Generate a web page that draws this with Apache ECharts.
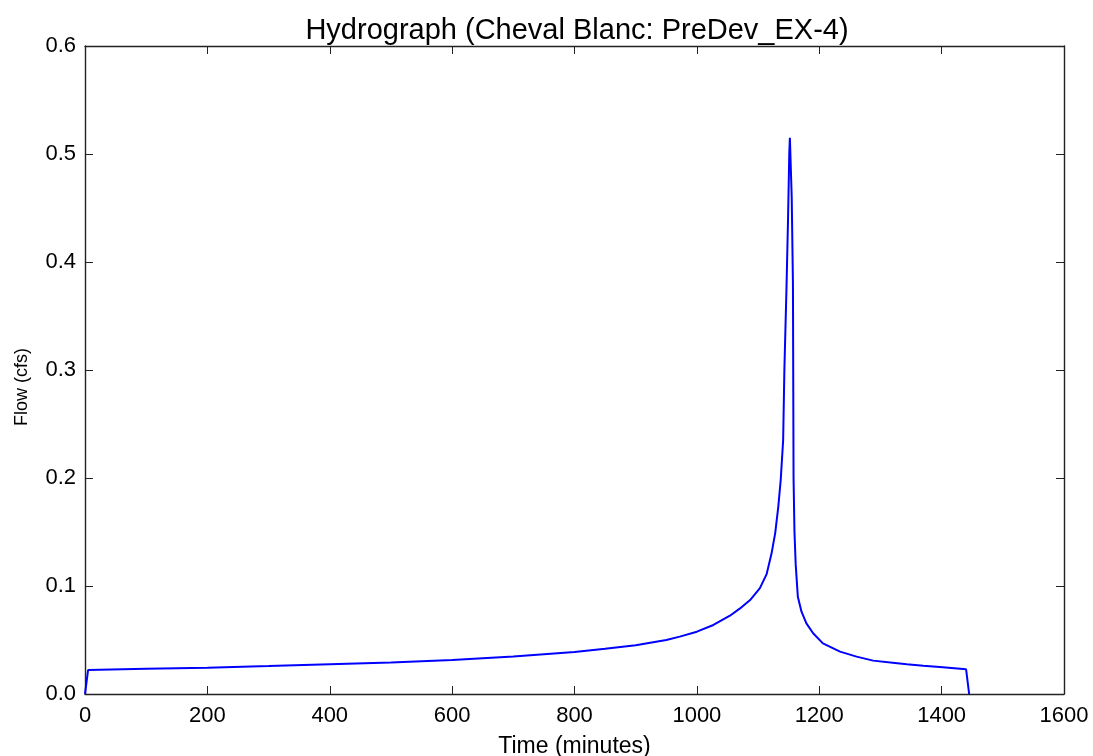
<!DOCTYPE html>
<html>
<head>
<meta charset="utf-8">
<script src="https://cdn.jsdelivr.net/npm/echarts@6/dist/echarts.min.js"></script>
<style>
html,body{margin:0;padding:0;background:#fff;}
#c{width:1093px;height:756px;}
</style>
</head>
<body>
<div id="c"></div>
<script>
var titleText = "Hydrograph (Cheval Blanc: PreDev_EX-4)";
var xName = "Time (minutes)";
var yName = "Flow (cfs)";
var timeMin = [0, 5, 100, 200, 300, 400, 500, 600, 700, 800,
  850, 900, 950, 972, 1000, 1027, 1054, 1070, 1087, 1103,
  1114, 1122, 1128, 1133, 1137, 1141, 1143, 1146.5, 1149, 1151,
  1152, 1155, 1157, 1158, 1159.5, 1161.5, 1165, 1171, 1179, 1190,
  1206, 1234, 1261, 1288, 1320, 1343, 1370, 1397, 1440, 1445];
var flowCfs = [0, 0.0222, 0.0233, 0.0244, 0.0259, 0.0275, 0.0292, 0.0315, 0.0348, 0.0389,
  0.0418, 0.0452, 0.0500, 0.0531, 0.0577, 0.0639, 0.0725, 0.0790, 0.0870, 0.0980,
  0.1110, 0.1300, 0.1490, 0.1730, 0.1980, 0.2350, 0.3000, 0.3770, 0.4400, 0.5000,
  0.5150, 0.4600, 0.3800, 0.2000, 0.1500, 0.1200, 0.0900, 0.0762, 0.0654, 0.0562,
  0.0469, 0.0392, 0.0346, 0.0309, 0.0289, 0.0275, 0.0262, 0.0250, 0.0229, 0];
var xTicks = {min: 0, max: 1600, interval: 200};
var yTicks = {min: 0, max: 0.6, interval: 0.1};

var data = timeMin.map(function(t, i){ return [t, flowCfs[i]]; });
var font = "'Liberation Sans', Arial, sans-serif";
var axisLine = {show: true, onZero: false, lineStyle: {color: '#222', width: 1.4}};
var tick = {show: true, inside: true, length: 8, lineStyle: {color: '#222', width: 1}};

var chart = echarts.init(document.getElementById('c'), null, {renderer: 'canvas'});
chart.setOption({
  animation: false,
  backgroundColor: '#fff',
  title: {
    text: titleText, left: 572, top: 11, textAlign: 'center',
    textStyle: {fontFamily: font, fontSize: 29, fontWeight: 'normal', color: '#000'}
  },
  graphic: [{
    type: 'text', x: 22, y: 387, rotation: Math.PI / 2,
    style: {text: yName, fontFamily: font, fontSize: 18, fill: '#000',
      textAlign: 'center', textVerticalAlign: 'middle'}
  }],
  grid: {left: 85, right: 29, top: 46, bottom: 62, containLabel: false, outerBoundsMode: 'none'},
  xAxis: [{
    type: 'value', min: xTicks.min, max: xTicks.max, interval: xTicks.interval,
    position: 'bottom',
    name: xName, nameLocation: 'middle', nameGap: 41,
    nameTextStyle: {fontFamily: font, fontSize: 23, color: '#000'},
    axisLine: axisLine, axisTick: tick,
    axisLabel: {fontFamily: font, fontSize: 22, color: '#000', margin: 11,
      formatter: function(v){ return String(v); }},
    splitLine: {show: false}
  }, {
    type: 'value', min: xTicks.min, max: xTicks.max, interval: xTicks.interval,
    position: 'top',
    axisLine: axisLine, axisTick: tick, axisLabel: {show: false}, splitLine: {show: false}
  }],
  yAxis: [{
    type: 'value', min: yTicks.min, max: yTicks.max, interval: yTicks.interval,
    position: 'left',
    axisLine: axisLine, axisTick: tick,
    axisLabel: {fontFamily: font, fontSize: 22, color: '#000', margin: 9,
      formatter: function(v){ return v.toFixed(1); }},
    splitLine: {show: false}
  }, {
    type: 'value', min: yTicks.min, max: yTicks.max, interval: yTicks.interval,
    position: 'right',
    axisLine: axisLine, axisTick: tick, axisLabel: {show: false}, splitLine: {show: false}
  }],
  series: [{
    type: 'line', xAxisIndex: 0, yAxisIndex: 0,
    data: data, showSymbol: false, symbol: 'none', smooth: false,
    lineStyle: {color: '#0000ff', width: 2},
    clip: true
  }]
});
</script>
</body>
</html>
